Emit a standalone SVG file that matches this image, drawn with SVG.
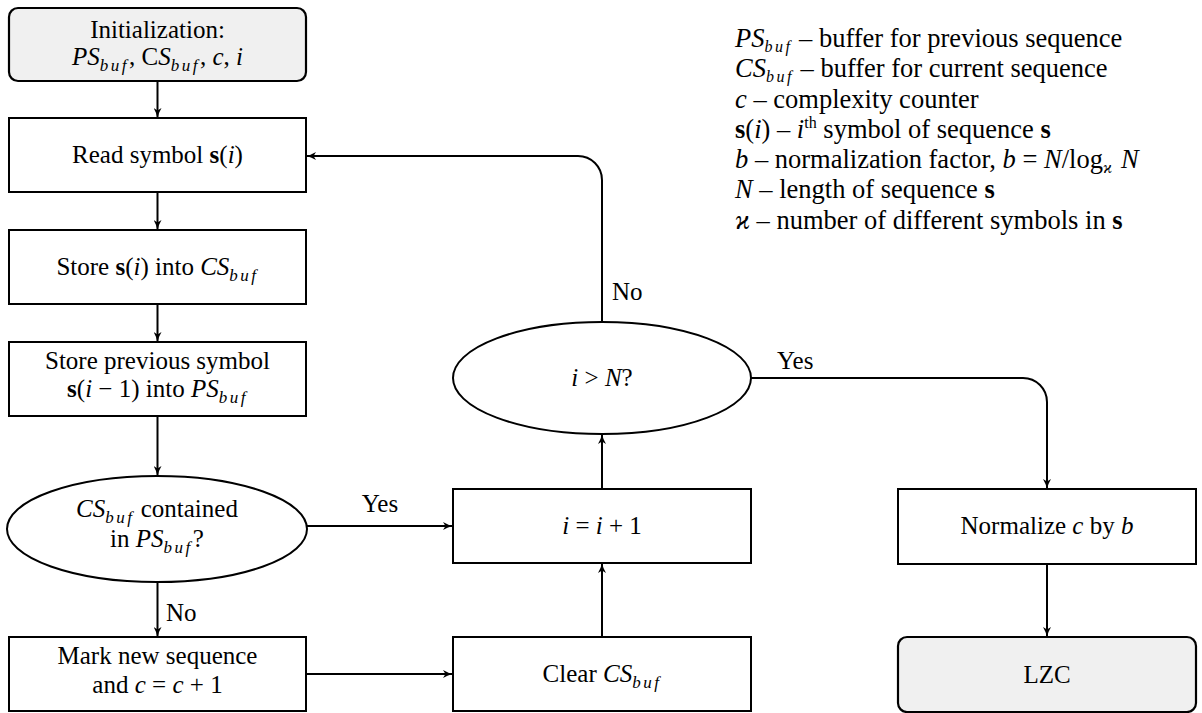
<svg xmlns="http://www.w3.org/2000/svg" width="1202" height="713" viewBox="0 0 1202 713" font-family="'Liberation Serif', 'Times New Roman', serif">
<style>
text{font-family:'Liberation Serif','Times New Roman',serif;font-size:25px;fill:#000}
.c{text-anchor:middle}
.i{font-style:italic}
.b{font-weight:bold}
.sub{font-style:italic;font-size:17px;letter-spacing:2.5px}
.lg{font-size:26.5px}
.lg .sub{font-size:16px}
.box{fill:#fff;stroke:#000;stroke-width:2}
.term{fill:#f0f0f0;stroke:#000;stroke-width:2.2}
.ln{fill:none;stroke:#000;stroke-width:2}
</style>
<defs>
<marker id="ah" viewBox="0 0 10 8" refX="10" refY="4" markerWidth="10" markerHeight="8" markerUnits="userSpaceOnUse" orient="auto">
<path d="M0,0 Q5,3 10,4 Q5,5 0,8 L2.5,4 Z" fill="#000"/>
</marker>
</defs>

<g id="connectors">
<path class="ln" d="M157.5,81 V118" marker-end="url(#ah)"/>
<path class="ln" d="M157.5,192 V230" marker-end="url(#ah)"/>
<path class="ln" d="M157.5,304 V342" marker-end="url(#ah)"/>
<path class="ln" d="M157.5,416 V476" marker-end="url(#ah)"/>
<path class="ln" d="M157.5,582 V637" marker-end="url(#ah)"/>
<text x="166" y="621">No</text>
<path class="ln" d="M306,526 H453" marker-end="url(#ah)"/>
<text class="c" x="380" y="512">Yes</text>
<path class="ln" d="M306,674 H453" marker-end="url(#ah)"/>
<path class="ln" d="M602,637 V563" marker-end="url(#ah)"/>
<path class="ln" d="M602,489 V434" marker-end="url(#ah)"/>
<path class="ln" d="M602,322 V180 A24,24 0 0 0 578,156 H306" marker-end="url(#ah)"/>
<text x="612" y="300">No</text>
<path class="ln" d="M751,378 H1023 A24,24 0 0 1 1047,402 V489" marker-end="url(#ah)"/>
<text x="777" y="369">Yes</text>
<path class="ln" d="M1047,564 V637" marker-end="url(#ah)"/>
</g>

<g id="init">
<rect class="term" x="9" y="8" width="297" height="73" rx="9"/>
<text class="c" x="157.5" y="38">Initialization:</text>
<text class="c" x="157.5" y="65"><tspan class="i">PS</tspan><tspan class="sub" dy="6">buf</tspan><tspan dy="-6">, C</tspan><tspan class="i">S</tspan><tspan class="sub" dy="6">buf</tspan><tspan dy="-6">, </tspan><tspan class="i">c</tspan><tspan>, </tspan><tspan class="i">i</tspan></text>
</g>

<g id="read">
<rect class="box" x="9" y="118" width="297" height="74"/>
<text class="c" x="157.5" y="163">Read symbol <tspan class="b">s</tspan>(<tspan class="i">i</tspan>)</text>
</g>

<g id="store">
<rect class="box" x="9" y="230" width="297" height="74"/>
<text class="c" x="157.5" y="275">Store <tspan class="b">s</tspan>(<tspan class="i">i</tspan>) into <tspan class="i">CS</tspan><tspan class="sub" dy="6">buf</tspan></text>
</g>

<g id="storeprev">
<rect class="box" x="9" y="342" width="297" height="74"/>
<text class="c" x="157.5" y="369">Store previous symbol</text>
<text class="c" x="157.5" y="397"><tspan class="b">s</tspan>(<tspan class="i">i</tspan> − 1) into <tspan class="i">PS</tspan><tspan class="sub" dy="6">buf</tspan></text>
</g>

<g id="contained">
<ellipse class="box" cx="157" cy="529" rx="150" ry="53"/>
<text class="c" x="157" y="517"><tspan class="i">CS</tspan><tspan class="sub" dy="6">buf</tspan><tspan dy="-6"> contained</tspan></text>
<text class="c" x="157" y="547">in <tspan class="i">PS</tspan><tspan class="sub" dy="6">buf</tspan><tspan dy="-6">?</tspan></text>
</g>

<g id="mark">
<rect class="box" x="9" y="637" width="297" height="74"/>
<text class="c" x="157.5" y="664">Mark new sequence</text>
<text class="c" x="157.5" y="693">and <tspan class="i">c</tspan> = <tspan class="i">c</tspan> + 1</text>
</g>

<g id="incr">
<rect class="box" x="453" y="489" width="298" height="74"/>
<text class="c" x="602" y="534"><tspan class="i">i</tspan> = <tspan class="i">i</tspan> + 1</text>
</g>

<g id="clear">
<rect class="box" x="453" y="637" width="298" height="74"/>
<text class="c" x="602" y="682">Clear <tspan class="i">CS</tspan><tspan class="sub" dy="6">buf</tspan></text>
</g>

<g id="check">
<ellipse class="box" cx="602" cy="378" rx="149" ry="56"/>
<text class="c" x="602" y="386"><tspan class="i">i</tspan> &gt; <tspan class="i">N</tspan>?</text>
</g>

<g id="normalize">
<rect class="box" x="898" y="489" width="298" height="75"/>
<text class="c" x="1047" y="534">Normalize <tspan class="i">c</tspan> by <tspan class="i">b</tspan></text>
</g>

<g id="lzc">
<rect class="term" x="898" y="637" width="298" height="75" rx="9"/>
<text class="c" x="1047" y="683">LZC</text>
</g>

<g id="legend">
<text class="lg" x="735" y="47"><tspan class="i">PS</tspan><tspan class="sub" dy="5">buf</tspan><tspan dy="-5"> – buffer for previous sequence</tspan></text>
<text class="lg" x="735" y="77"><tspan class="i">CS</tspan><tspan class="sub" dy="5">buf</tspan><tspan dy="-5"> – buffer for current sequence</tspan></text>
<text class="lg" x="735" y="108"><tspan class="i">c</tspan> – complexity counter</text>
<text class="lg" x="735" y="138"><tspan class="b">s</tspan>(<tspan class="i">i</tspan>) – <tspan class="i">i</tspan><tspan font-size="16" dy="-10">th</tspan><tspan dy="10"> symbol of sequence </tspan><tspan class="b">s</tspan></text>
<text class="lg" x="735" y="168"><tspan class="i">b</tspan> – normalization factor, <tspan class="i">b</tspan> = <tspan class="i">N</tspan>/log<tspan class="sub" dy="5">ϰ</tspan><tspan class="i" dy="-5"> N</tspan></text>
<text class="lg" x="735" y="198"><tspan class="i">N</tspan> – length of sequence <tspan class="b">s</tspan></text>
<text class="lg" x="735" y="229"><tspan class="i">ϰ</tspan> – number of different symbols in <tspan class="b">s</tspan></text>
</g>
</svg>
